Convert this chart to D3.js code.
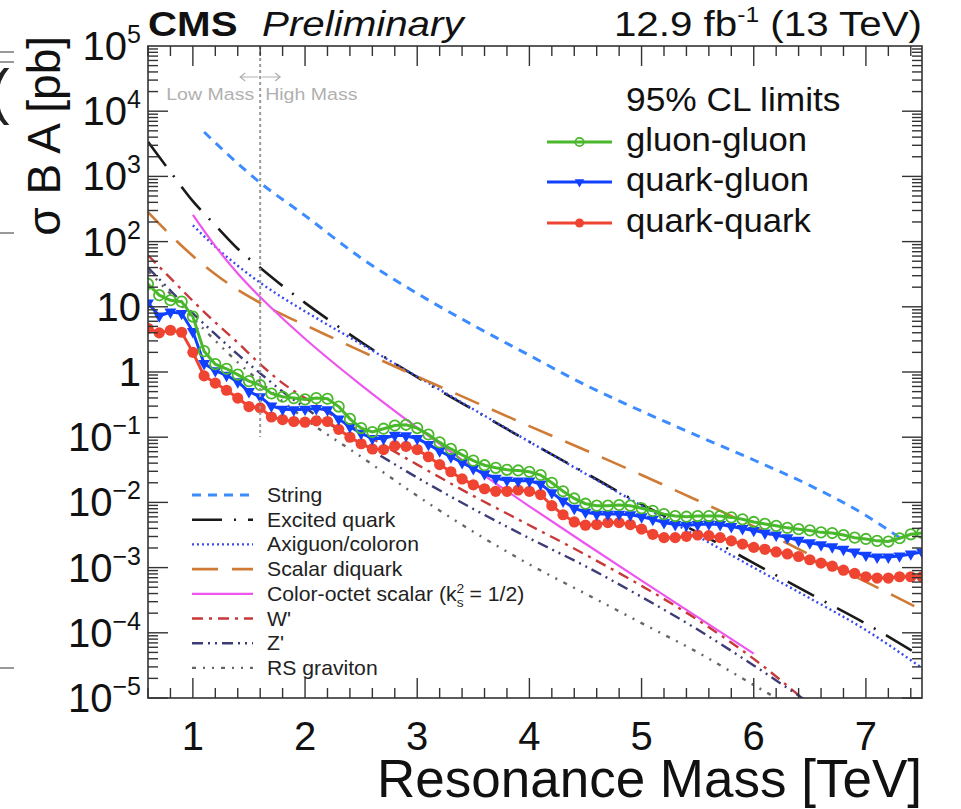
<!DOCTYPE html>
<html>
<head>
<meta charset="utf-8">
<script src="https://cdn.jsdelivr.net/npm/d3@7"></script>
<style>
	body { margin: 0; background: #fff; }
	svg { display: block; }
	text { font-family: "Liberation Sans", Arial, Helvetica, sans-serif; }
</style>
</head>
<body>
<div id="chart"></div>
<script>
// resonance masses of the limit points (TeV)
var massPoints = [
	0.6, 0.7, 0.8, 0.9, 1.0,
	1.1, 1.2, 1.3, 1.4, 1.5, 1.6, 1.7, 1.8, 1.9, 2.0,
	2.1, 2.2, 2.3, 2.4, 2.5, 2.6, 2.7, 2.8, 2.9, 3.0,
	3.1, 3.2, 3.3, 3.4, 3.5, 3.6, 3.7, 3.8, 3.9, 4.0,
	4.1, 4.2, 4.3, 4.4, 4.5, 4.6, 4.7, 4.8, 4.9, 5.0,
	5.1, 5.2, 5.3, 5.4, 5.5, 5.6, 5.7, 5.8, 5.9, 6.0,
	6.1, 6.2, 6.3, 6.4, 6.5, 6.6, 6.7, 6.8, 6.9, 7.0,
	7.1, 7.2, 7.3, 7.4, 7.5];

// observed 95% CL limits, sigma*B*A in pb
var gluonGluon = [
	22.4, 15.1, 12.6, 12.0, 7.08,
	2.09, 1.32, 1.12, 0.912, 0.724, 0.631, 0.468, 0.417, 0.398, 0.380,
	0.398, 0.389, 0.295, 0.191, 0.138, 0.120, 0.135, 0.151, 0.155, 0.138,
	0.110, 0.0832, 0.0661, 0.0537, 0.0437, 0.0372, 0.0339, 0.0316, 0.0309, 0.0295,
	0.0263, 0.0200, 0.0148, 0.0115, 0.00955, 0.00891, 0.00891, 0.00912, 0.00891, 0.00813,
	0.00741, 0.00661, 0.00617, 0.00603, 0.00617, 0.00617, 0.00617, 0.00589, 0.00550, 0.00501,
	0.00468, 0.00437, 0.00407, 0.00389, 0.00372, 0.00347, 0.00339, 0.00316, 0.00288, 0.00275,
	0.00257, 0.00251, 0.00282, 0.00324, 0.00339];

var quarkGluon = [
	11.5, 7.24, 8.32, 7.94, 4.17,
	1.35, 1.05, 0.891, 0.708, 0.501, 0.417, 0.302, 0.269, 0.263, 0.269,
	0.275, 0.263, 0.191, 0.145, 0.115, 0.0955, 0.0955, 0.107, 0.105, 0.0955,
	0.0776, 0.0617, 0.0501, 0.0407, 0.0331, 0.0275, 0.0234, 0.0219, 0.0214, 0.0214,
	0.0191, 0.0141, 0.0105, 0.00813, 0.00708, 0.00661, 0.00661, 0.00661, 0.00646, 0.00603,
	0.00550, 0.00490, 0.00457, 0.00447, 0.00457, 0.00468, 0.00457, 0.00427, 0.00398, 0.00372,
	0.00339, 0.00316, 0.00288, 0.00263, 0.00240, 0.00224, 0.00209, 0.00191, 0.00174, 0.00155,
	0.00145, 0.00145, 0.00151, 0.00162, 0.00174];

var quarkQuark = [
	4.68, 3.98, 4.37, 4.07, 2.00,
	0.871, 0.676, 0.525, 0.398, 0.295, 0.282, 0.204, 0.186, 0.174, 0.170,
	0.178, 0.174, 0.132, 0.100, 0.0794, 0.0661, 0.0646, 0.0741, 0.0724, 0.0646,
	0.0501, 0.0380, 0.0295, 0.0229, 0.0186, 0.0162, 0.0148, 0.0148, 0.0155, 0.0148,
	0.0132, 0.00891, 0.00646, 0.00501, 0.00447, 0.00457, 0.00490, 0.00490, 0.00457, 0.00389,
	0.00324, 0.00288, 0.00288, 0.00302, 0.00316, 0.00309, 0.00288, 0.00257, 0.00229, 0.00204,
	0.00191, 0.00174, 0.00162, 0.00148, 0.00132, 0.00117, 0.00105, 0.000912, 0.000813, 0.000724,
	0.000692, 0.000692, 0.000724, 0.000724, 0.000724];

// theory predictions (mass in TeV, sigma*B*A in pb)
var stringMass = [1.1, 1.6, 2.0, 2.5, 3.0, 3.5, 4.0, 4.5, 5.0, 5.5, 6.0, 6.5, 7.0, 7.35];
var stringXsec = [4800, 800, 250, 56, 16, 5.2, 1.8, 0.631, 0.251, 0.105, 0.0447, 0.0182, 0.00631, 0.00251];

var qstarMass = [0.6, 0.8, 1.0, 1.2, 1.4, 1.6, 1.8, 2.0, 2.5, 3.0, 3.5, 4.0, 4.5, 5.0, 5.5, 6.0, 6.5, 7.0, 7.5];
var qstarXsec = [3390, 1175, 417, 178, 77.6, 39.8, 20.9, 11.5, 2.88, 0.832, 0.263, 0.0851, 0.0282, 0.00933, 0.00347, 0.00117, 0.000398, 0.000138, 0.0000427];

var axigluonMass = [1.0, 1.2, 1.4, 1.6, 1.8, 2.0, 2.5, 3.0, 3.5, 4.0, 4.5, 5.0, 5.5, 6.0, 6.5, 7.0, 7.5];
var axigluonXsec = [178, 83.2, 42.7, 23.4, 13.8, 8.51, 2.69, 0.851, 0.269, 0.0851, 0.0275, 0.00891, 0.00302, 0.00100, 0.000339, 0.000110, 0.0000288];

var diquarkMass = [0.6, 0.8, 1.0, 1.2, 1.4, 1.6, 1.8, 2.0, 2.5, 3.0, 3.5, 4.0, 4.5, 5.0, 5.5, 6.0, 6.5, 7.0, 7.5];
var diquarkXsec = [282, 126, 60.3, 31.6, 18.2, 11.5, 7.59, 5.25, 2.09, 0.851, 0.355, 0.148, 0.0631, 0.0263, 0.0107, 0.00427, 0.00158, 0.000603, 0.000224];

var octetMass = [1.0, 1.2, 1.4, 1.6, 1.8, 2.0, 2.5, 3.0, 3.5, 4.0, 4.5, 5.0, 5.5, 6.0];
var octetXsec = [257, 85.1, 32.4, 14.1, 6.61, 3.24, 0.631, 0.140, 0.0339, 0.00871, 0.00232, 0.000631, 0.000174, 0.0000479];

var wprimeMass = [0.6, 0.8, 1.0, 1.2, 1.4, 1.6, 1.8, 2.0, 2.5, 3.0, 3.5, 4.0, 4.5, 5.0, 5.5, 6.0, 6.5];
var wprimeXsec = [61.7, 27.5, 12.3, 5.75, 2.82, 1.32, 0.676, 0.398, 0.120, 0.0380, 0.0126, 0.00447, 0.00158, 0.000525, 0.000158, 0.0000398, 0.0000079];

var zprimeMass = [0.6, 0.8, 1.0, 1.2, 1.4, 1.6, 1.8, 2.0, 2.5, 3.0, 3.5, 4.0, 4.5, 5.0, 5.5, 6.0, 6.5];
var zprimeXsec = [39.8, 17.8, 7.94, 3.80, 1.86, 0.955, 0.501, 0.282, 0.0794, 0.0240, 0.00794, 0.00282, 0.00105, 0.000355, 0.000112, 0.0000316, 0.0000083];

var gravitonMass = [0.6, 0.8, 1.0, 1.2, 1.4, 1.6, 1.8, 2.0, 2.5, 3.0, 3.5, 4.0, 4.5, 5.0, 5.5, 6.0, 6.5];
var gravitonXsec = [35.5, 15.8, 6.76, 3.02, 1.41, 0.708, 0.355, 0.191, 0.0501, 0.0126, 0.00355, 0.00112, 0.000398, 0.000141, 0.0000501, 0.0000158, 0.0000050];

var yTickExponents = [5, 4, 3, 2, 1, 0, -1, -2, -3, -4, -5];
var xTickLabels = [1, 2, 3, 4, 5, 6, 7];

var width = 961, height = 809;
var plotLeft = 148, plotRight = 922, plotTop = 46, plotBottom = 698;

var svg = d3.select("#chart").append("svg")
	.attr("width", width)
	.attr("height", height);

var x = d3.scaleLinear().domain([0.6, 7.5]).range([plotLeft, plotRight]);
var y = d3.scaleLog().domain([1e-5, 1e5]).range([plotBottom, plotTop]);

svg.append("clipPath").attr("id", "plotClip")
	.append("rect")
		.attr("x", plotLeft).attr("y", plotTop)
		.attr("width", plotRight - plotLeft).attr("height", plotBottom - plotTop);

// leftovers of the screenshot at the left edge
svg.append("text")
	.attr("x", -11).attr("y", 112)
	.attr("font-size", 62)
	.attr("fill", "#222")
	.text("(");
[52, 62, 233, 668].forEach(function (yy) {
	svg.append("line")
		.attr("x1", 0).attr("x2", 14).attr("y1", yy).attr("y2", yy)
		.attr("stroke", "#555").attr("stroke-width", 1.2);
});

// theory curves
var theory = [
	{ name: "String", mass: stringMass, xsec: stringXsec, color: "#3d8cff", dash: "9,7", width: 3 },
	{ name: "Excited quark", mass: qstarMass, xsec: qstarXsec, color: "#1a1a1a", dash: "30,12,2,12", width: 2.6 },
	{ name: "Axiguon/coloron", mass: axigluonMass, xsec: axigluonXsec, color: "#3a4cf0", dash: "2,3", width: 2.4 },
	{ name: "Scalar diquark", mass: diquarkMass, xsec: diquarkXsec, color: "#cf7b35", dash: "26,14", width: 2.6 },
	{ name: "Color-octet scalar", mass: octetMass, xsec: octetXsec, color: "#ee55ee", dash: null, width: 2.2 },
	{ name: "W'", mass: wprimeMass, xsec: wprimeXsec, color: "#c8393a", dash: "11,6,3,6", width: 2.4 },
	{ name: "Z'", mass: zprimeMass, xsec: zprimeXsec, color: "#3c3c78", dash: "11,5,2,5,2,5", width: 2.4 },
	{ name: "RS graviton", mass: gravitonMass, xsec: gravitonXsec, color: "#666666", dash: "4,7,2,7,2,7", width: 2.4 }
];

var theoryLine = d3.line()
	.x(function (d) { return x(d[0]); })
	.y(function (d) { return y(d[1]); })
	.curve(d3.curveMonotoneX);

var curves = svg.append("g").attr("clip-path", "url(#plotClip)");

theory.forEach(function (t) {
	curves.append("path")
		.datum(t.mass.map(function (m, i) { return [m, t.xsec[i]]; }))
		.attr("d", theoryLine)
		.attr("fill", "none")
		.attr("stroke", t.color)
		.attr("stroke-width", t.width)
		.attr("stroke-dasharray", t.dash);
});

// low / high mass boundary
svg.append("line")
	.attr("x1", x(1.6)).attr("x2", x(1.6))
	.attr("y1", plotTop).attr("y2", 437)
	.attr("stroke", "#999").attr("stroke-width", 2)
	.attr("stroke-dasharray", "3,3");

svg.append("text")
	.attr("transform", "translate(" + (x(1.6) - 6) + ",100) scale(1.15,1)")
	.attr("text-anchor", "end")
	.attr("font-size", 17).attr("fill", "#b0b0b0")
	.text("Low Mass");
svg.append("text")
	.attr("transform", "translate(" + (x(1.6) + 5) + ",100) scale(1.15,1)")
	.attr("font-size", 17).attr("fill", "#b0b0b0")
	.text("High Mass");

function arrow(x1, x2, yy) {
	var dir = x2 > x1 ? 1 : -1;
	svg.append("path")
		.attr("d", "M" + x1 + "," + yy + "H" + x2 +
			"M" + (x2 - dir * 5) + "," + (yy - 4) + "L" + x2 + "," + yy + "L" + (x2 - dir * 5) + "," + (yy + 4))
		.attr("fill", "none").attr("stroke", "#b0b0b0").attr("stroke-width", 1.2);
}
arrow(x(1.6) - 2, x(1.6) - 20, 77);
arrow(x(1.6) + 2, x(1.6) + 20, 77);

// observed limits
var limits = [
	{ name: "quark-quark", xsec: quarkQuark, color: "#ef4431", marker: "dot" },
	{ name: "quark-gluon", xsec: quarkGluon, color: "#1141ff", marker: "triangle" },
	{ name: "gluon-gluon", xsec: gluonGluon, color: "#49b82b", marker: "ring" }
];

var dataLine = d3.line()
	.x(function (d) { return x(d[0]); })
	.y(function (d) { return y(d[1]); });

var triangle = d3.symbol().type(d3.symbolTriangle).size(62);

function drawMarker(g, marker, color, px, py, scale) {
	scale = scale || 1;
	if (marker === "dot") {
		g.append("circle").attr("cx", px).attr("cy", py).attr("r", 5.6 * scale).attr("fill", color);
	}
	else if (marker === "ring") {
		g.append("circle").attr("cx", px).attr("cy", py).attr("r", 5.2 * scale)
			.attr("fill", "none").attr("stroke", color).attr("stroke-width", 1.8);
	}
	else {
		g.append("path").attr("d", triangle)
			.attr("transform", "translate(" + px + "," + py + ") rotate(180) scale(" + scale + ")")
			.attr("fill", color);
	}
}

limits.forEach(function (s) {
	var pts = massPoints.map(function (m, i) { return [m, s.xsec[i]]; });
	var g = curves.append("g");
	g.append("path")
		.datum(pts)
		.attr("d", dataLine)
		.attr("fill", "none")
		.attr("stroke", s.color)
		.attr("stroke-width", 3);
	pts.forEach(function (p) {
		drawMarker(g, s.marker, s.color, x(p[0]), y(p[1]));
	});
});

// frame and ticks
svg.append("rect")
	.attr("x", plotLeft).attr("y", plotTop)
	.attr("width", plotRight - plotLeft).attr("height", plotBottom - plotTop)
	.attr("fill", "none").attr("stroke", "#333").attr("stroke-width", 1.6);

var ticks = svg.append("g").attr("stroke", "#333").attr("stroke-width", 1.4);

d3.range(0.6, 7.45, 0.2).forEach(function (m) {
	var major = Math.abs(m - Math.round(m)) < 1e-6;
	var len = major ? 20 : 10;
	var px = x(m);
	ticks.append("line").attr("x1", px).attr("x2", px).attr("y1", plotBottom).attr("y2", plotBottom - len);
	ticks.append("line").attr("x1", px).attr("x2", px).attr("y1", plotTop).attr("y2", plotTop + len);
});

for (var e = -5; e <= 4; e++) {
	for (var k = 1; k <= 9; k++) {
		var py = y(k * Math.pow(10, e));
		var len = k === 1 ? 20 : 10;
		ticks.append("line").attr("x1", plotLeft).attr("x2", plotLeft + len).attr("y1", py).attr("y2", py);
		ticks.append("line").attr("x1", plotRight).attr("x2", plotRight - len).attr("y1", py).attr("y2", py);
	}
}

// tick labels
yTickExponents.forEach(function (e) {
	var t = svg.append("text")
		.attr("x", 141)
		.attr("y", y(Math.pow(10, e)) + 14)
		.attr("text-anchor", "end")
		.attr("font-size", 40)
		.attr("fill", "#111");
	if (e === 0) {
		t.text("1");
	}
	else if (e === 1) {
		t.text("10");
	}
	else {
		t.append("tspan").text("10");
		t.append("tspan")
			.attr("dy", -17)
			.attr("font-size", 25)
			.text(e < 0 ? "\u2212" + (-e) : e);
	}
});

xTickLabels.forEach(function (m) {
	svg.append("text")
		.attr("x", x(m))
		.attr("y", 750)
		.attr("text-anchor", "middle")
		.attr("font-size", 40)
		.attr("fill", "#111")
		.text(m);
});

// axis titles
svg.append("text")
	.attr("x", plotRight)
	.attr("y", 797)
	.attr("text-anchor", "end")
	.attr("font-size", 53)
	.attr("fill", "#111")
	.text("Resonance Mass [TeV]");

svg.append("text")
	.attr("transform", "translate(60,36) rotate(-90)")
	.attr("text-anchor", "end")
	.attr("font-size", 46)
	.attr("fill", "#111")
	.text("\u03c3 B A [pb]");

// header, slightly widened like the reference
svg.append("text")
	.attr("transform", "translate(" + plotLeft + ",36) scale(1.12,1)")
	.attr("font-size", 36).attr("font-weight", "bold")
	.attr("fill", "#111")
	.text("CMS");
svg.append("text")
	.attr("transform", "translate(262,36) scale(1.12,1)")
	.attr("font-size", 36).attr("font-style", "italic")
	.attr("fill", "#111")
	.text("Preliminary");

var lumi = svg.append("text")
	.attr("transform", "translate(" + plotRight + ",36) scale(1.12,1)")
	.attr("text-anchor", "end")
	.attr("font-size", 36)
	.attr("fill", "#111");
lumi.append("tspan").text("12.9 fb");
lumi.append("tspan").attr("dy", -14).attr("font-size", 22).text("-1");
lumi.append("tspan").attr("dy", 14).text(" (13 TeV)");

// legend for the limits
svg.append("text")
	.attr("transform", "translate(626,111) scale(1.07,1)")
	.attr("font-size", 33).attr("fill", "#111")
	.text("95% CL limits");

var limitLegendY = { "gluon-gluon": 142, "quark-gluon": 182, "quark-quark": 223 };
limits.forEach(function (s) {
	var ly = limitLegendY[s.name];
	var g = svg.append("g");
	g.append("line")
		.attr("x1", 547).attr("x2", 612).attr("y1", ly).attr("y2", ly)
		.attr("stroke", s.color).attr("stroke-width", 3);
	drawMarker(g, s.marker, s.color, 579.5, ly, 0.8);
	g.append("text")
		.attr("transform", "translate(626," + (ly + 9) + ") scale(1.05,1)")
		.attr("font-size", 33).attr("fill", "#111")
		.text(s.name);
});

// legend for the theory curves
theory.forEach(function (t, i) {
	var ly = 495 + i * 24.7;
	svg.append("line")
		.attr("x1", 192).attr("x2", 253).attr("y1", ly).attr("y2", ly)
		.attr("stroke", t.color).attr("stroke-width", t.width)
		.attr("stroke-dasharray", t.dash);
	var label = svg.append("text")
		.attr("transform", "translate(267," + (ly + 7) + ") scale(1.06,1)")
		.attr("font-size", 20).attr("fill", "#222");
	if (t.name === "Color-octet scalar") {
		label.append("tspan").text("Color-octet scalar (k");
		label.append("tspan").attr("dy", -8).attr("font-size", 13).text("2");
		label.append("tspan").attr("dx", -7).attr("dy", 14).attr("font-size", 13).text("s");
		label.append("tspan").attr("dy", -6).text(" = 1/2)");
	}
	else {
		label.text(t.name);
	}
});
</script>
</body>
</html>
